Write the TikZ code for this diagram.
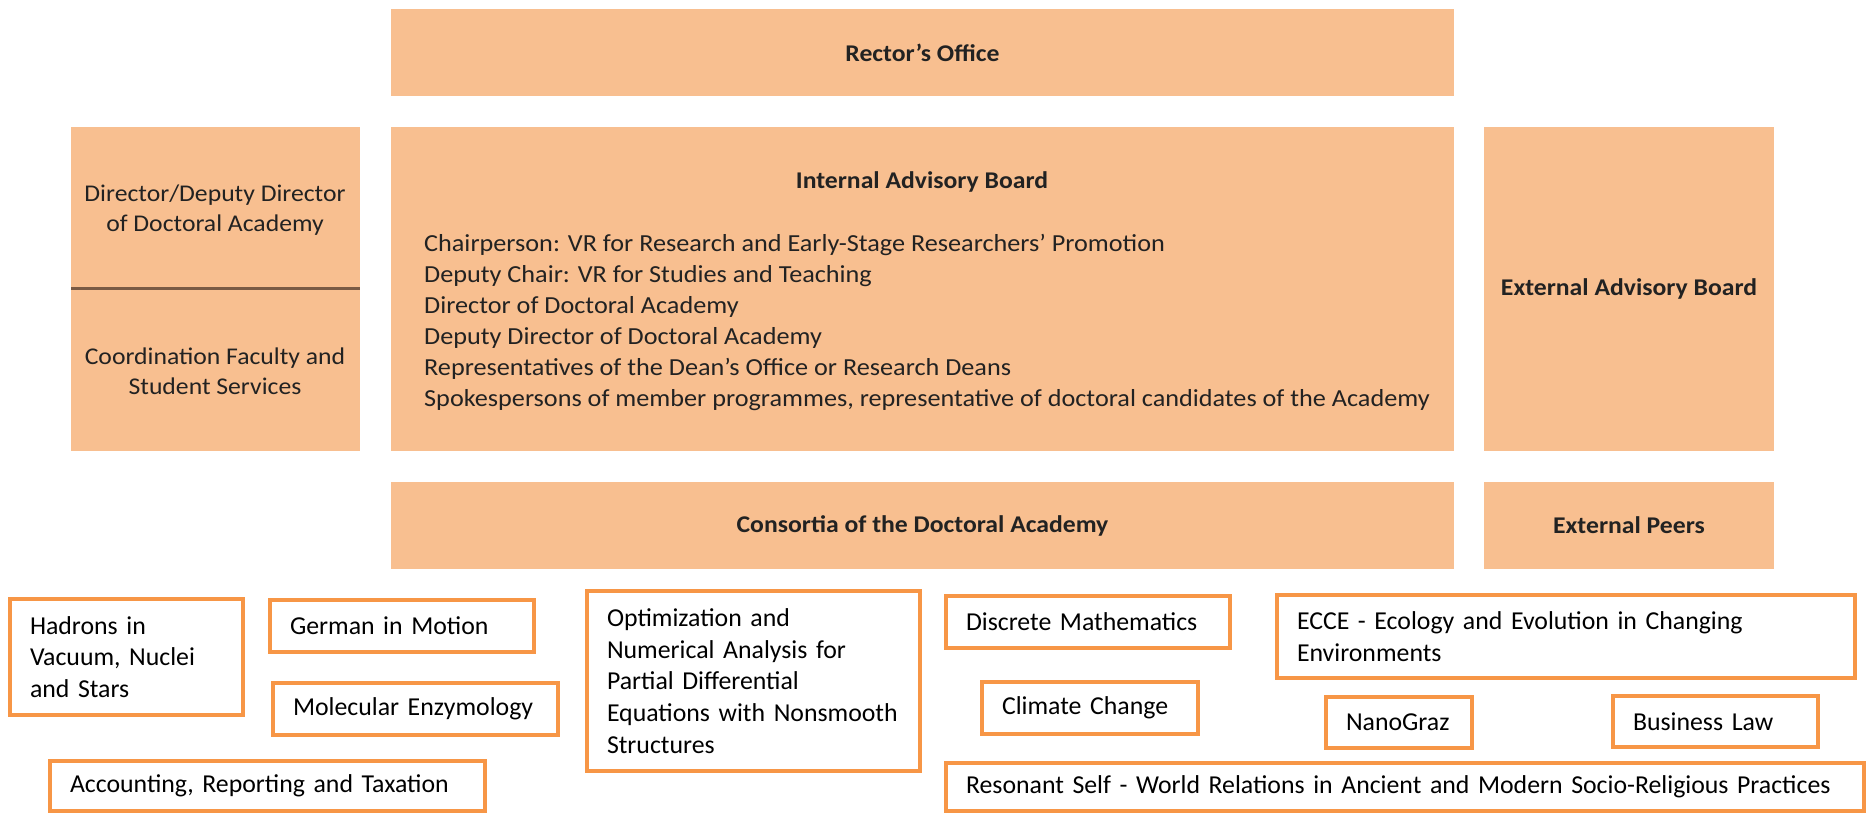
\documentclass[tikz,border=0pt]{standalone}
\usepackage{fontspec}
\setmainfont{Carlito}
\newfontfamily\upfont[FakeStretch=1.07]{Carlito}
\definecolor{peach}{HTML}{F8BF90}
\definecolor{orng}{HTML}{F79646}
\definecolor{divc}{HTML}{7A5A44}
\definecolor{tx}{HTML}{222222}
\newcommand\mkpk[5]{%
  \pgfmathsetmacro\bw{#4-#2}\pgfmathsetmacro\bh{#5-#3}%
  \node[pk, minimum width=\bw pt, minimum height=\bh pt] (#1) at ({(#2+#4)/2},{(#3+#5)/2}) {};}
\newcommand\mkob[6]{%
  \pgfmathsetmacro\bw{#4-#2}\pgfmathsetmacro\bh{#5-#3}\pgfmathsetmacro\tw{#4-#2-40}%
  \node[ob, minimum width=\bw pt, minimum height=\bh pt, text width=\tw pt] (#1) at ({(#2+#4)/2},{(#3+#5)/2}) {#6};}
\begin{document}
\begin{tikzpicture}[x=1pt,y=-1pt,
  pk/.style={fill=peach, draw=none, inner sep=0pt},
  ob/.style={draw=orng, line width=4pt, fill=white, inner xsep=20pt, inner ysep=0pt,
     align=left, font=\fontsize{25.8}{31.7}\selectfont, text=black},
  head/.style={font=\upfont\fontsize{24}{30}\selectfont\bfseries, text=tx, inner sep=0pt},
  body/.style={font=\upfont\fontsize{24.5}{31}\selectfont, text=tx, inner sep=0pt},
  divider/.style={draw=divc, line width=3pt}]
\useasboundingbox (0,0) rectangle (1868,814);
% upper peach boxes
\mkpk{rector}{391}{9}{1454}{96}
\mkpk{leftcol}{71}{127}{360}{451}
\mkpk{iab}{391}{127}{1454}{451}
\mkpk{eab}{1484}{127}{1774}{451}
\mkpk{cons}{391}{482}{1454}{569}
\mkpk{peers}{1484}{482}{1774}{569}
\coordinate (dl) at (71,288);
\coordinate (dr) at (360,288);
\draw[divider] (dl) -- (dr);
% texts of upper boxes
\node[head] (rectort) at (rector) {Rector’s Office};
\node[head] (iabt) at (922,182) {Internal Advisory Board};
\node[body, align=left, anchor=west] (iabl) at (424,322) {Chairperson: VR for Research and Early-Stage Researchers’ Promotion\\
Deputy Chair: VR for Studies and Teaching\\
Director of Doctoral Academy\\
Deputy Director of Doctoral Academy\\
Representatives of the Dean’s Office or Research Deans\\
Spokespersons of member programmes, representative of doctoral candidates of the Academy};
\node[body, align=center, font=\upfont\fontsize{24}{30}\selectfont] (dirt) at (215,210) {Director/Deputy Director\\of Doctoral Academy};
\node[body, align=center, font=\upfont\fontsize{24}{30}\selectfont] (coordt) at (215,371) {Coordination Faculty and\\Student Services};
\node[head] (eabt) at (eab) {External Advisory Board};
\node[head] (const) at (cons) {Consortia of the Doctoral Academy};
\node[head] (peerst) at (peers) {External Peers};
% orange boxes
\mkob{hadrons}{10}{599}{243}{715}{Hadrons in\\Vacuum, Nuclei\\and Stars}
\mkob{german}{270}{600}{534}{652}{German in Motion}
\mkob{molec}{273}{683}{558}{735}{Molecular Enzymology}
\mkob{account}{50}{761}{485}{811}{Accounting, Reporting and Taxation}
\mkob{optim}{587}{591}{920}{771}{Optimization and\\Numerical Analysis for\\Partial Differential\\Equations with Nonsmooth\\Structures}
\mkob{discrete}{946}{596}{1230}{648}{Discrete Mathematics}
\mkob{ecce}{1277}{595}{1855}{678}{ECCE - Ecology and Evolution in Changing\\Environments}
\mkob{climate}{982}{682}{1198}{734}{Climate Change}
\mkob{nano}{1326}{697}{1472}{748}{NanoGraz}
\mkob{business}{1613}{696}{1818}{747}{Business Law}
\mkob{resonant}{946}{763}{1864}{811}{Resonant Self - World Relations in Ancient and Modern Socio-Religious Practices}
\end{tikzpicture}
\end{document}
